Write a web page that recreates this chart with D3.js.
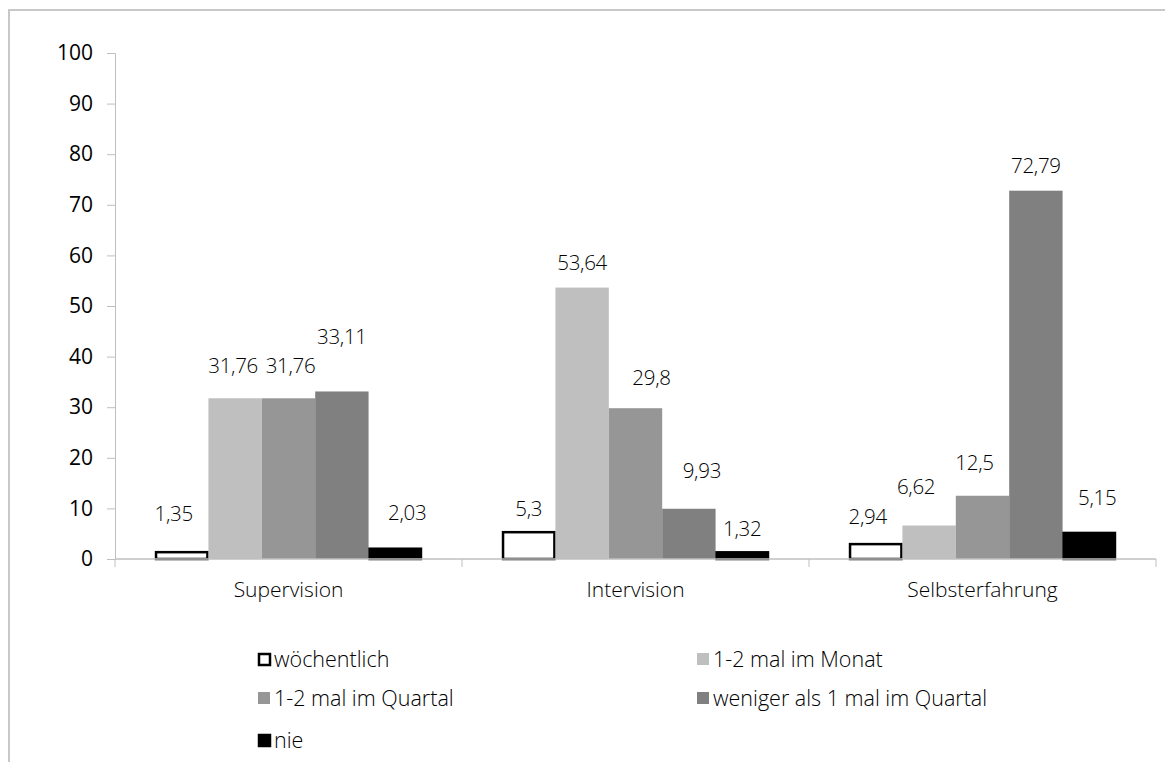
<!DOCTYPE html>
<html>
<head>
<meta charset="utf-8">
<script src="https://cdn.jsdelivr.net/npm/d3@7"></script>
<style>
  html, body { margin: 0; padding: 0; background: #fff; }
  svg { display: block; font-family: "Open Sans", sans-serif; }
  svg text { font-family: "Open Sans", sans-serif; }
</style>
</head>
<body>
<svg id="chart" width="1165" height="762"></svg>
<script>
// ---- data ----
const categories = ["Supervision", "Intervision", "Selbsterfahrung"];
const seriesNames = ["wöchentlich", "1-2 mal im Monat", "1-2 mal im Quartal", "weniger als 1 mal im Quartal", "nie"];
const supervision = [1.35, 31.76, 31.76, 33.11, 2.03];
const intervision = [5.3, 53.64, 29.8, 9.93, 1.32];
const selbsterfahrung = [2.94, 6.62, 12.5, 72.79, 5.15];
const yTicks = [0, 10, 20, 30, 40, 50, 60, 70, 80, 90, 100];

// ---- layout / style (not data) ----
const values = [supervision, intervision, selbsterfahrung];
const fills = ["#ffffff", "#bfbfbf", "#969696", "#808080", "#000000"];
const strokes = ["#000000", "none", "none", "none", "#000000"];
const labelLift = [[39, 33, 33, 55, 36], [24, 25, 31, 38, 24], [28, 39, 33, 25, 35]];
const labelShift = [[-8, -2, 2, 0, 12], [0, 0, 16, 13, 0], [-8, -13, -8, 0, 8]];

const svg = d3.select("#chart");
const axisColor = "#bfbfbf";

// frame
svg.append("path")
  .attr("d", "M9,762 V10 H1165")
  .attr("fill", "none")
  .attr("stroke", "#c8c8c8")
  .attr("stroke-width", 2);

const plot = { left: 115, right: 1156, top: 53, bottom: 559 };

const x0 = d3.scaleBand().domain(categories).range([plot.left, plot.right]).padding(0);
const x1 = d3.scaleBand().domain(d3.range(seriesNames.length)).range([0, x0.bandwidth()])
  .paddingInner(0).paddingOuter(0.75);
const y = d3.scaleLinear().domain([0, 100]).range([plot.bottom, plot.top]);

// y axis
const yAxis = svg.append("g").attr("transform", `translate(${plot.left},0)`)
  .call(d3.axisLeft(y).tickValues(yTicks).tickSize(8).tickPadding(14).tickFormat(d3.format("d")));
yAxis.attr("font-family", null).attr("font-size", null);
yAxis.select(".domain").attr("stroke", axisColor);
yAxis.selectAll(".tick line").attr("stroke", axisColor);
yAxis.selectAll(".tick text").attr("fill", "#000")
  .style("font-family", "'Open Sans', sans-serif")
  .style("font-size", "21px").style("font-weight", 400);

// bars
const groups = svg.append("g").selectAll("g").data(categories).join("g")
  .attr("transform", d => `translate(${x0(d)},0)`);

groups.each(function(cat, ci) {
  const g = d3.select(this);
  const vals = values[ci];
  g.selectAll("rect").data(vals).join("rect")
    .attr("x", (d, i) => x1(i) + (strokes[i] !== "none" ? 1 : 0))
    .attr("y", d => y(d))
    .attr("width", (d, i) => x1.bandwidth() - (strokes[i] !== "none" ? 2 : 0))
    .attr("height", d => y(0) - y(d))
    .attr("fill", (d, i) => fills[i])
    .attr("stroke", (d, i) => strokes[i])
    .attr("stroke-width", 2.5);
  g.selectAll("text.val").data(vals).join("text")
    .attr("class", "val")
    .attr("x", (d, i) => x1(i) + x1.bandwidth() / 2 + labelShift[ci][i])
    .attr("y", (d, i) => y(d) - labelLift[ci][i])
    .attr("dy", "0.36em")
    .attr("text-anchor", "middle")
    .style("font-size", "20.5px")
    .style("font-weight", 300)
    .style("letter-spacing", "-0.3px")
    .attr("fill", "#000")
    .text(d => String(d).replace(".", ","));
});

// x axis
const xAxis = svg.append("g").attr("transform", `translate(0,${plot.bottom})`);
xAxis.append("line").attr("x1", plot.left).attr("x2", plot.right)
  .attr("stroke", axisColor).attr("stroke-width", 1.5);
const bounds = categories.map(c => x0(c)).concat([plot.right]);
xAxis.selectAll("line.tk").data(bounds).join("line").attr("class", "tk")
  .attr("x1", d => d).attr("x2", d => d).attr("y1", 0).attr("y2", 8)
  .attr("stroke", axisColor);
xAxis.selectAll("text").data(categories).join("text")
  .attr("x", d => x0(d) + x0.bandwidth() / 2)
  .attr("y", 30)
  .attr("dy", "0.36em")
  .attr("text-anchor", "middle")
  .style("font-size", "21px")
  .style("font-weight", 300)
  .attr("fill", "#000")
  .text(d => d);

// legend
const legCols = [258, 697];
const legRows = [659, 698, 740];
const leg = svg.append("g").selectAll("g").data(seriesNames).join("g")
  .attr("transform", (d, i) => `translate(${legCols[i % 2]},${legRows[Math.floor(i / 2)]})`);
leg.append("rect")
  .attr("x", (d, i) => strokes[i] !== "none" ? 1 : 0)
  .attr("y", (d, i) => -6 + (strokes[i] !== "none" ? 1 : 0))
  .attr("width", (d, i) => strokes[i] !== "none" ? 11 : 12)
  .attr("height", (d, i) => strokes[i] !== "none" ? 11 : 12)
  .attr("fill", (d, i) => fills[i])
  .attr("stroke", (d, i) => strokes[i])
  .attr("stroke-width", 2.5);
leg.append("text")
  .attr("x", 16)
  .attr("y", 0)
  .attr("dy", "0.36em")
  .style("font-size", "21.5px")
  .style("font-weight", 300)
  .attr("fill", "#000")
  .text(d => d);
</script>
</body>
</html>
